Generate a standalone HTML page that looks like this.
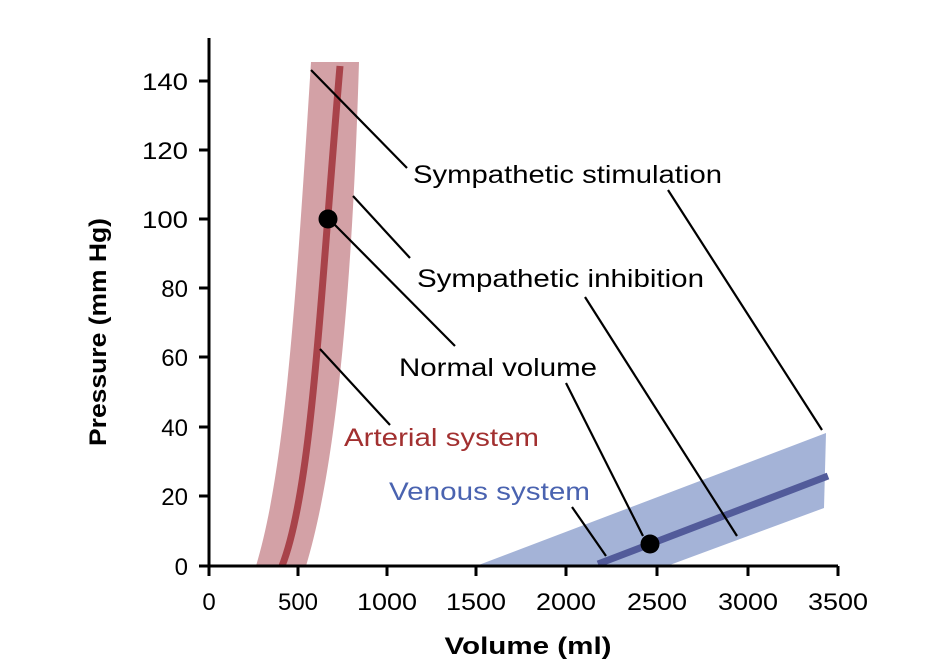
<!DOCTYPE html>
<html><head><style>body{margin:0;background:#fff}svg{display:block}</style></head><body>
<svg width="927" height="662" xmlns="http://www.w3.org/2000/svg" font-family="Liberation Sans, sans-serif">
<path d="M256,566 C285,470 296,300 311,62 L359,62 C352,300 335,470 306,566 Z" fill="#d3a1a6"/>
<path d="M282,566 C312,490 320,300 340,66" stroke="#a8434a" stroke-width="7" fill="none"/>
<polygon points="476,566 826,433 824,508 667,566" fill="#a4b3d7"/>
<line x1="598" y1="564" x2="828" y2="476" stroke="#525b9a" stroke-width="7"/>
<circle cx="328" cy="219" r="9.5" fill="#000"/>
<circle cx="650" cy="544" r="9.5" fill="#000"/>
<g stroke="#000" stroke-width="2.2">
<line x1="311" y1="70" x2="407" y2="168"/>
<line x1="668" y1="190" x2="822" y2="430"/>
<line x1="353" y1="196" x2="410" y2="258"/>
<line x1="585" y1="297" x2="737" y2="536"/>
<line x1="334" y1="224" x2="455" y2="346"/>
<line x1="566" y1="383" x2="643" y2="536"/>
<line x1="320" y1="349" x2="390" y2="425"/>
<line x1="572" y1="507" x2="606" y2="556"/>
</g>
<g font-size="25" fill="#000" lengthAdjust="spacingAndGlyphs">
<text x="413" y="183" textLength="309" lengthAdjust="spacingAndGlyphs">Sympathetic stimulation</text>
<text x="417" y="287" textLength="287" lengthAdjust="spacingAndGlyphs">Sympathetic inhibition</text>
<text x="399" y="376" textLength="198" lengthAdjust="spacingAndGlyphs">Normal volume</text>
<text x="344" y="446" fill="#a23030" textLength="195" lengthAdjust="spacingAndGlyphs">Arterial system</text>
<text x="389" y="500" fill="#4a63b0" textLength="201" lengthAdjust="spacingAndGlyphs">Venous system</text>
</g>
<g stroke="#000" stroke-width="3" fill="none">
<path d="M209,38 V566 H838"/>
<path d="M199,81 H209 M199,150 H209 M199,219 H209 M199,288 H209 M199,357 H209 M199,427 H209 M199,496 H209 M199,566 H209"/>
<path d="M209,566 V576 M298,566 V576 M387,566 V576 M476,566 V576 M566,566 V576 M657,566 V576 M748,566 V576 M838,566 V576"/>
</g>
<g font-size="24" text-anchor="end">
<text x="188" y="90" textLength="46" lengthAdjust="spacingAndGlyphs">140</text><text x="188" y="159" textLength="46" lengthAdjust="spacingAndGlyphs">120</text><text x="188" y="228" textLength="46" lengthAdjust="spacingAndGlyphs">100</text>
<text x="188" y="297">80</text><text x="188" y="366">60</text><text x="188" y="436">40</text>
<text x="188" y="505">20</text><text x="188" y="575">0</text>
</g>
<g font-size="24" text-anchor="middle">
<text x="209" y="610">0</text><text x="298" y="610">500</text><text x="387" y="610" textLength="60" lengthAdjust="spacingAndGlyphs">1000</text>
<text x="476" y="610" textLength="60" lengthAdjust="spacingAndGlyphs">1500</text><text x="566" y="610" textLength="60" lengthAdjust="spacingAndGlyphs">2000</text><text x="657" y="610" textLength="60" lengthAdjust="spacingAndGlyphs">2500</text>
<text x="748" y="610" textLength="60" lengthAdjust="spacingAndGlyphs">3000</text><text x="838" y="610" textLength="60" lengthAdjust="spacingAndGlyphs">3500</text>
</g>
<text x="528" y="654" font-size="24" font-weight="bold" text-anchor="middle" textLength="167" lengthAdjust="spacingAndGlyphs">Volume (ml)</text>
<text transform="translate(106,332) rotate(-90)" font-size="24" font-weight="bold" text-anchor="middle" textLength="228" lengthAdjust="spacingAndGlyphs">Pressure (mm Hg)</text>
</svg>
</body></html>
